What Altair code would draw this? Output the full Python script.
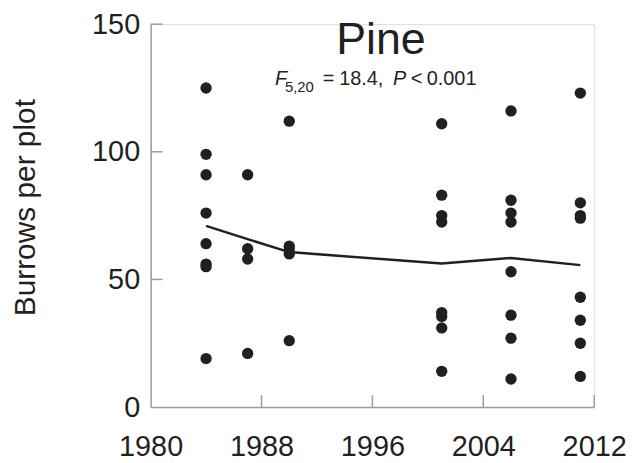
import altair as alt
import pandas as pd

# ---- data ----
yr_1984 = [125, 99, 91, 76, 64, 56, 55, 19]
yr_1987 = [91, 62, 58, 21]
yr_1990 = [112, 63, 61.5, 60, 26]
yr_2001 = [111, 83, 75, 72.5, 37, 35.5, 31, 14]
yr_2006 = [116, 81, 76, 72.5, 53, 36, 27, 11]
yr_2011 = [123, 80, 75, 74, 43, 34, 25, 12]
point_groups = {1984: yr_1984, 1987: yr_1987, 1990: yr_1990,
                2001: yr_2001, 2006: yr_2006, 2011: yr_2011}

mean_years = [1984, 1987, 1990, 2001, 2006, 2011]
mean_values = [71, 65.8, 60.7, 56.2, 58.4, 55.6]

x_ticks = [1980, 1988, 1996, 2004, 2012]
y_ticks = [0, 50, 100, 150]
x_inner_ticks = [1988, 1996, 2004, 2012]
y_inner_ticks = [50, 100, 150]

title_text = "Pine"
y_title = "Burrows per plot"

# ---- tables ----
pts = pd.DataFrame([{"year": y, "burrows": v} for y, vals in point_groups.items() for v in vals])
means = pd.DataFrame({"year": mean_years, "burrows": mean_values})
xt = pd.DataFrame({"year": x_inner_ticks})
yt = pd.DataFrame({"burrows": y_inner_ticks})

W, H = 446, 385
FONT = "Liberation Sans"
INK = "#231f20"
GREY = "#9d9d9d"

xscale = alt.Scale(domain=[1980, 2012], nice=False, zero=False)
yscale = alt.Scale(domain=[0, 150], nice=False)

xaxis = alt.Axis(values=x_ticks, format="d", title=None, ticks=False, grid=False,
                 domainColor=GREY, domainWidth=1.5, labelFont=FONT, labelFontSize=29,
                 labelColor=INK, labelPadding=26, labelFlush=False, labelOverlap=False)
yaxis = alt.Axis(values=y_ticks, title=y_title, ticks=False, grid=False,
                 domainColor=GREY, domainWidth=1.5, labelFont=FONT, labelFontSize=29,
                 labelColor=INK, labelPadding=11, labelFlush=False, labelOverlap=False,
                 titleFont=FONT, titleFontSize=30, titleFontWeight="normal", titleColor=INK,
                 titleAngle=-90, titleX=-116.4, titleY=184, titleAlign="center",
                 titleBaseline="alphabetic")

dots = alt.Chart(pts).mark_circle(size=130, color=INK, opacity=1).encode(
    x=alt.X("year:Q", scale=xscale, axis=xaxis),
    y=alt.Y("burrows:Q", scale=yscale, axis=yaxis),
)

line = alt.Chart(means).mark_line(color=INK, strokeWidth=2.5).encode(
    x=alt.X("year:Q", scale=xscale),
    y=alt.Y("burrows:Q", scale=yscale),
)

xtick_rules = alt.Chart(xt).mark_rule(color=GREY, strokeWidth=1.5).encode(
    x=alt.X("year:Q", scale=xscale),
    y=alt.value(H - 12), y2=alt.value(H),
)
ytick_rules = alt.Chart(yt).mark_rule(color=GREY, strokeWidth=1.5).encode(
    y=alt.Y("burrows:Q", scale=yscale),
    x=alt.value(0), x2=alt.value(12),
)

one = alt.Data(values=[{"a": 1}])


def txt(s, x, y, size, italic=False, align="left"):
    kw = dict(font=FONT, fontSize=size, color=INK, align=align, baseline="alphabetic")
    if italic:
        kw["fontStyle"] = "italic"
    return alt.Chart(one).mark_text(**kw).encode(
        x=alt.value(x), y=alt.value(y), text=alt.value(s))


title = txt(title_text, 231.6, 30.3, 45, align="center")
sub = [
    txt("F", 125, 61.5, 20, italic=True),
    txt("5,20", 135, 68, 15),
    txt("=", 173, 61.5, 20),
    txt("18.4,", 189.6, 61.5, 20),
    txt("P", 243.6, 61.5, 20, italic=True),
    txt("<", 261.6, 61.5, 20),
    txt("0.001", 277.6, 61.5, 20),
]

chart = alt.layer(xtick_rules, ytick_rules, line, dots, title, *sub).properties(
    width=W, height=H,
    autosize=alt.AutoSizeParams(type="none"),
    padding={"left": 143.4, "top": 15, "right": 34, "bottom": 55},
).configure_view(stroke=None).configure(background="white")

chart.save("out.html", embed_options={"renderer": "svg", "actions": False})
